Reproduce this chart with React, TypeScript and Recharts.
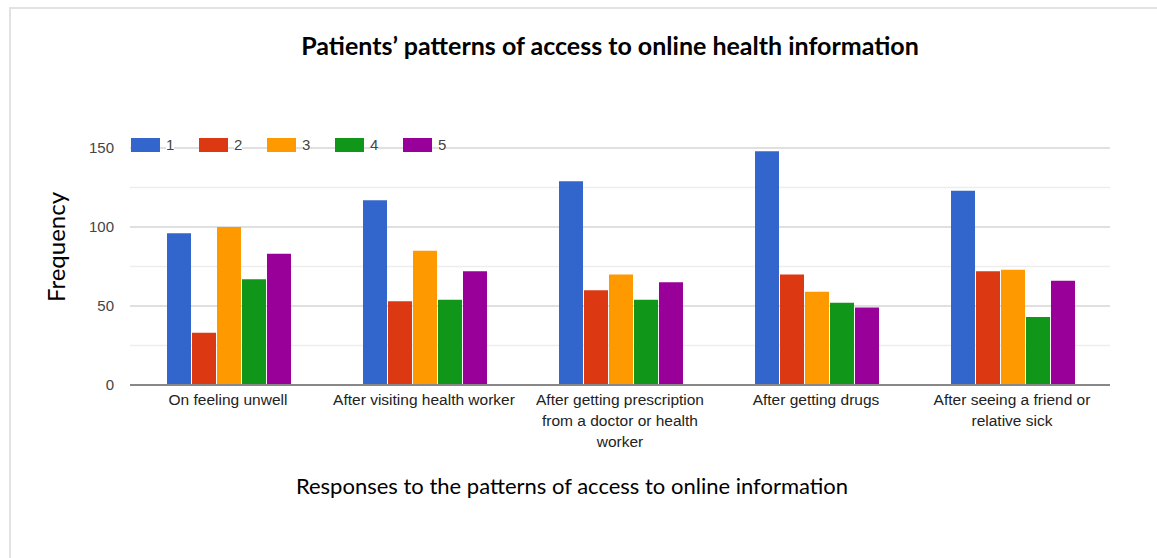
import { BarChart, Bar, XAxis, YAxis, CartesianGrid, Text } from "recharts";

const categories = [
  "On feeling unwell",
  "After visiting health worker",
  "After getting prescription from a doctor or health worker",
  "After getting drugs",
  "After seeing a friend or relative sick",
];

const series1 = [96, 117, 129, 148, 123];
const series2 = [33, 53, 60, 70, 72];
const series3 = [100, 85, 70, 59, 73];
const series4 = [67, 54, 54, 52, 43];
const series5 = [83, 72, 65, 49, 66];

const seriesNames = ["1", "2", "3", "4", "5"];
const seriesColors = ["#3366cc", "#dc3912", "#ff9900", "#109618", "#990099"];
const yTicks = [0, 50, 100, 150];
const minorTicks = [25, 75, 125];

const data = categories.map((name, i) => ({
  name,
  s1: series1[i],
  s2: series2[i],
  s3: series3[i],
  s4: series4[i],
  s5: series5[i],
}));

const keys = ["s1", "s2", "s3", "s4", "s5"];
const axisFont = "Arial, 'Liberation Sans', sans-serif";

function CategoryTick({ x, y, payload }: any) {
  return (
    <Text
      x={x}
      y={y}
      width={192}
      textAnchor="middle"
      verticalAnchor="start"
      lineHeight={21}
      fill="#222"
      fontSize={15.5}
      fontFamily={axisFont}
    >
      {payload.value}
    </Text>
  );
}

export default function App() {
  return (
    <div style={{ position: "absolute", left: 0, top: 0, width: 1157, height: 558, background: "#fff", overflow: "hidden" }}>
      <div
        style={{
          position: "absolute",
          left: 9,
          top: 7,
          width: 1200,
          height: 600,
          borderTop: "2px solid #e2e2e2",
          borderLeft: "2px solid #e2e2e2",
        }}
      />
      <div style={{ position: "absolute", left: 0, top: 0 }}>
        <BarChart
          width={1157}
          height={558}
          data={data}
          margin={{ top: 148, right: 47, left: 0, bottom: 103 }}
          barCategoryGap={37}
          barGap={1}
        >
          <CartesianGrid vertical={false} horizontalValues={minorTicks} stroke="#ededed" strokeWidth={1.5} />
          <CartesianGrid vertical={false} horizontalValues={yTicks} stroke="#d6d6d6" strokeWidth={1.5} />
          <XAxis
            dataKey="name"
            tick={<CategoryTick />}
            tickLine={false}
            axisLine={{ stroke: "#888", strokeWidth: 2 }}
            tickSize={0}
            tickMargin={9}
            interval={0}
            height={70}
          />
          <YAxis
            domain={[0, 150]}
            ticks={yTicks}
            width={130}
            axisLine={false}
            tickLine={false}
            tickSize={0}
            tickMargin={16}
            tick={{ fill: "#444", fontSize: 15, fontFamily: axisFont }}
          />
          {keys.map((k, i) => (
            <Bar key={k} dataKey={k} name={seriesNames[i]} fill={seriesColors[i]} isAnimationActive={false} />
          ))}
        </BarChart>
      </div>
      <div style={{ position: "absolute", left: 131, top: 138, height: 16 }}>
        {seriesNames.map((n, i) => (
          <div
            key={n}
            style={{
              position: "absolute",
              left: i * 68,
              top: 0,
              display: "flex",
              alignItems: "center",
              gap: 6,
              whiteSpace: "nowrap",
            }}
          >
            <span
              style={{
                display: "inline-block",
                width: 29,
                height: 14,
                backgroundColor: seriesColors[i],
              }}
            />
            <span style={{ fontSize: 15, lineHeight: "14px", color: "#444", fontFamily: axisFont, background: "#fff" }}>{n}</span>
          </div>
        ))}
      </div>
      <div
        style={{
          position: "absolute",
          left: 0,
          width: 1220,
          top: 30,
          textAlign: "center",
          fontFamily: "Lato, sans-serif",
          fontWeight: 700,
          fontSize: 25,
          color: "#000",
        }}
      >
        Patients’ patterns of access to online health information
      </div>
      <div
        style={{
          position: "absolute",
          left: 55,
          top: 247,
          transform: "translate(-50%, -50%) rotate(-90deg)",
          fontFamily: "Lato, sans-serif",
          fontSize: 24,
          color: "#000",
          whiteSpace: "nowrap",
        }}
      >
        Frequency
      </div>
      <div
        style={{
          position: "absolute",
          left: 0,
          width: 1144,
          top: 472,
          textAlign: "center",
          fontFamily: "Lato, sans-serif",
          fontSize: 22,
          color: "#000",
        }}
      >
        Responses to the patterns of access to online information
      </div>
    </div>
  );
}
